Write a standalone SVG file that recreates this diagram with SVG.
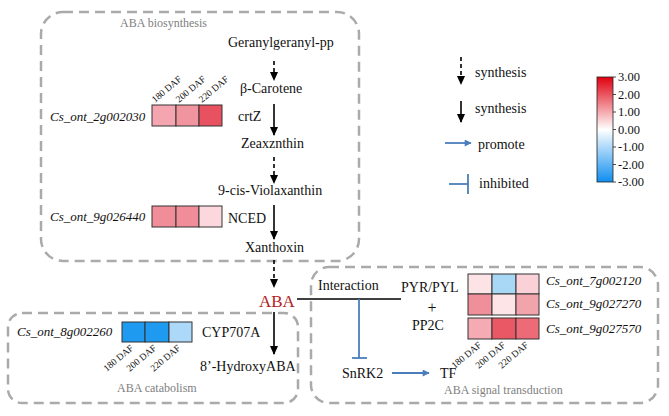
<svg xmlns="http://www.w3.org/2000/svg" width="669" height="416" viewBox="0 0 669 416">
<defs>
<marker id="ah" viewBox="0 0 10 10" refX="9" refY="5" markerWidth="5" markerHeight="5" orient="auto" markerUnits="userSpaceOnUse">
<path d="M0,0 L10,5 L0,10 z" fill="#000"/>
</marker>
<marker id="ahb" viewBox="0 0 10 10" refX="9" refY="5" markerWidth="8" markerHeight="7" orient="auto" markerUnits="userSpaceOnUse">
<path d="M0,0 L10,5 L0,10 z" fill="#4a7ebb"/>
</marker>
<marker id="ahk" viewBox="0 0 10 10" refX="9" refY="5" markerWidth="9" markerHeight="9" orient="auto" markerUnits="userSpaceOnUse">
<path d="M0,0.5 L10,5 L0,9.5 z" fill="#000"/>
</marker>
<linearGradient id="cb" x1="0" y1="0" x2="0" y2="1">
<stop offset="0" stop-color="#e0000f"/>
<stop offset="0.5" stop-color="#ffffff"/>
<stop offset="1" stop-color="#0f8ef0"/>
</linearGradient>
</defs>
<style>
text{font-family:"Liberation Serif","Times New Roman",serif;fill:#111}
.t{font-size:14px}
.g{font-size:13px;font-style:italic}
.lab{font-size:12px;fill:#808080}
.daf{font-size:9.5px}
.box{fill:none;stroke:#aaaaaa;stroke-width:2.5;stroke-dasharray:10 6}
.cell{stroke:#333;stroke-width:1}
.sol{stroke:#000;stroke-width:1.6;fill:none}
.dash{stroke:#000;stroke-width:1.6;stroke-dasharray:4 3;fill:none}
.blue{stroke:#4a7ebb;stroke-width:1.8;fill:none}
.tick{font-size:12.5px}
</style>
<rect width="669" height="416" fill="#fff"/>

<g id="boxes">
<rect id="box-biosynthesis" class="box" x="41" y="12" width="318" height="249" rx="22"/>
<rect id="box-catabolism" class="box" x="8" y="313" width="290" height="90" rx="14"/>
<rect id="box-signal" class="box" x="311" y="267" width="347" height="136" rx="18"/>
<text class="lab" x="120" y="27">ABA biosynthesis</text>
<text class="lab" x="117" y="392">ABA catabolism</text>
<text class="lab" x="444" y="394">ABA signal transduction</text>
</g>

<g id="connectors">
<line class="dash" x1="274" y1="61" x2="274" y2="80" marker-end="url(#ahk)"/>
<line class="sol" x1="274" y1="104" x2="274" y2="135" marker-end="url(#ahk)"/>
<line class="dash" x1="274" y1="157" x2="274" y2="183" marker-end="url(#ahk)"/>
<line class="sol" x1="274" y1="205" x2="274" y2="239" marker-end="url(#ahk)"/>
<line class="dash" x1="274" y1="260" x2="274" y2="287" marker-end="url(#ahk)"/>
<line class="sol" x1="274" y1="312" x2="274" y2="354" marker-end="url(#ahk)"/>
<line class="sol" x1="297" y1="299" x2="401" y2="299"/>
<line class="blue" x1="359" y1="299" x2="359" y2="358"/>
<line class="blue" x1="352" y1="358" x2="367" y2="358"/>
<line class="blue" x1="392" y1="373" x2="429" y2="373" marker-end="url(#ahb)"/>
</g>

<g id="pathway">
<g id="n-ggpp"><text class="t" x="228" y="47">Geranylgeranyl-pp</text></g>
<g id="n-carotene"><text class="t" x="240" y="93">β-Carotene</text></g>
<g id="n-crtz"><text class="t" x="238" y="121">crtZ</text></g>
<g id="n-zea"><text class="t" x="241" y="148">Zeaxznthin</text></g>
<g id="n-viola"><text class="t" x="218" y="195">9-cis-Violaxanthin</text></g>
<g id="n-nced"><text class="t" x="228" y="223">NCED</text></g>
<g id="n-xanthoxin"><text class="t" x="245" y="252">Xanthoxin</text></g>
<g id="n-aba"><text x="259" y="307" style="font-size:17px;fill:#b3221f">ABA</text></g>
<g id="n-cyp"><text class="t" x="202" y="337">CYP707A</text></g>
<g id="n-hydroxy"><text class="t" x="200" y="371">8’-HydroxyABA</text></g>
<g id="n-interaction"><text class="t" x="318" y="290">Interaction</text></g>
<g id="n-pyr"><text class="t" x="401" y="292">PYR/PYL</text>
<text class="t" x="432" y="313" text-anchor="middle" style="font-size:16px">+</text>
<text class="t" x="412" y="330">PP2C</text></g>
<g id="n-snrk2"><text class="t" x="342" y="378">SnRK2</text></g>
<g id="n-tf"><text class="t" x="440" y="378">TF</text></g>
</g>

<g id="heatmap-crtz">
<text class="g" x="50" y="121">Cs_ont_2g002030</text>
<rect class="cell" x="152" y="105" width="24" height="21" fill="#f4a5af"/>
<rect class="cell" x="176" y="105" width="23" height="21" fill="#f0959f"/>
<rect class="cell" x="199" y="105" width="23" height="21" fill="#e8515f"/>
<text class="daf" transform="translate(155,103) rotate(-40)">180 DAF</text>
<text class="daf" transform="translate(179,103) rotate(-40)">200 DAF</text>
<text class="daf" transform="translate(202,103) rotate(-40)">220 DAF</text>
</g>

<g id="heatmap-nced">
<text class="g" x="50" y="221">Cs_ont_9g026440</text>
<rect class="cell" x="152" y="206" width="24" height="21" fill="#f08d98"/>
<rect class="cell" x="176" y="206" width="23" height="21" fill="#f08d98"/>
<rect class="cell" x="199" y="206" width="23" height="21" fill="#fcd8de"/>
</g>

<g id="heatmap-cyp">
<text class="g" x="17" y="336">Cs_ont_8g002260</text>
<rect class="cell" x="122" y="322" width="23" height="20" fill="#1e9af0"/>
<rect class="cell" x="145" y="322" width="24" height="20" fill="#1e9af0"/>
<rect class="cell" x="169" y="322" width="23" height="20" fill="#acd9fa"/>
<text class="daf" text-anchor="end" transform="translate(134,349) rotate(-40)">180 DAF</text>
<text class="daf" text-anchor="end" transform="translate(157,349) rotate(-40)">200 DAF</text>
<text class="daf" text-anchor="end" transform="translate(181,349) rotate(-40)">220 DAF</text>
</g>

<g id="heatmap-pyr">
<rect class="cell" x="468" y="274" width="24" height="20" fill="#fce3e6"/>
<rect class="cell" x="492" y="274" width="24" height="20" fill="#a9d8f7"/>
<rect class="cell" x="516" y="274" width="23" height="20" fill="#f9d1d7"/>
<rect class="cell" x="468" y="294" width="24" height="21" fill="#ef8f9a"/>
<rect class="cell" x="492" y="294" width="24" height="21" fill="#fde4e7"/>
<rect class="cell" x="516" y="294" width="23" height="21" fill="#f2a4ad"/>
<rect class="cell" x="468" y="318" width="24" height="21" fill="#f4abb3"/>
<rect class="cell" x="492" y="318" width="24" height="21" fill="#ea5866"/>
<rect class="cell" x="516" y="318" width="23" height="21" fill="#ec6b77"/>
<text class="g" x="546" y="285">Cs_ont_7g002120</text>
<text class="g" x="546" y="308">Cs_ont_9g027270</text>
<text class="g" x="546" y="333">Cs_ont_9g027570</text>
<text class="daf" text-anchor="end" transform="translate(482,346) rotate(-40)">180 DAF</text>
<text class="daf" text-anchor="end" transform="translate(506,346) rotate(-40)">200 DAF</text>
<text class="daf" text-anchor="end" transform="translate(529,346) rotate(-40)">220 DAF</text>
</g>

<g id="legend">
<line class="dash" x1="461" y1="57" x2="461" y2="84" marker-end="url(#ahk)"/>
<text class="t" x="475" y="77">synthesis</text>
<line class="sol" x1="461" y1="101" x2="461" y2="122" marker-end="url(#ahk)"/>
<text class="t" x="475" y="113">synthesis</text>
<line class="blue" x1="445" y1="143" x2="471" y2="143" marker-end="url(#ahb)"/>
<text class="t" x="478" y="149">promote</text>
<line class="blue" x1="449" y1="184" x2="468" y2="184"/>
<line class="blue" x1="468" y1="174" x2="468" y2="194"/>
<text class="t" x="479" y="188">inhibited</text>
</g>

<g id="colorbar">
<rect x="597" y="77" width="16" height="105" fill="url(#cb)" stroke="#222" stroke-width="0.8"/>
<g stroke="#222" stroke-width="0.8">
<line x1="613" y1="77" x2="616" y2="77"/><line x1="613" y1="94.5" x2="616" y2="94.5"/><line x1="613" y1="112" x2="616" y2="112"/><line x1="613" y1="129.5" x2="616" y2="129.5"/><line x1="613" y1="147" x2="616" y2="147"/><line x1="613" y1="164.5" x2="616" y2="164.5"/><line x1="613" y1="182" x2="616" y2="182"/>
</g>
<text class="tick" x="618" y="81">3.00</text>
<text class="tick" x="618" y="98.5">2.00</text>
<text class="tick" x="618" y="116">1.00</text>
<text class="tick" x="618" y="133.5">0.00</text>
<text class="tick" x="618" y="151">-1.00</text>
<text class="tick" x="618" y="168.5">-2.00</text>
<text class="tick" x="618" y="186">-3.00</text>
</g>
</svg>
